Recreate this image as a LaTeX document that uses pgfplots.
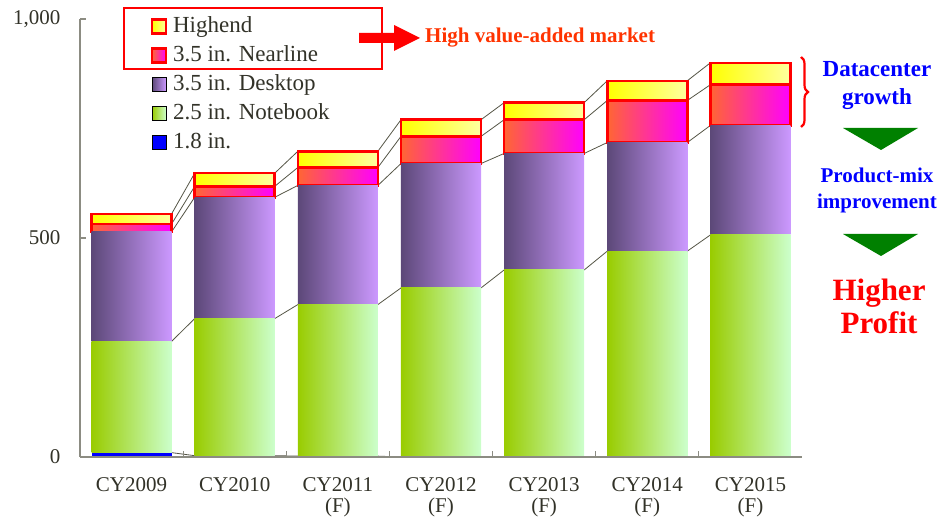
\documentclass[border=0pt]{standalone}
\usepackage{fontspec}
\setmainfont{Liberation Serif}
\usepackage{pgfplots}
\pgfplotsset{compat=1.18}
\usetikzlibrary{decorations.pathreplacing}

\definecolor{axgray}{RGB}{140,140,130}
\definecolor{conn}{RGB}{85,85,70}
\definecolor{hiL}{RGB}{255,255,0}
\definecolor{hiR}{RGB}{255,255,160}
\definecolor{nlL}{RGB}{255,102,51}
\definecolor{nlR}{RGB}{255,0,255}
\definecolor{dtL}{RGB}{92,72,120}
\definecolor{dtR}{RGB}{204,153,255}
\definecolor{nbL}{RGB}{153,204,0}
\definecolor{nbR}{RGB}{204,255,204}
\definecolor{txtgray}{RGB}{50,50,40}
\definecolor{hvred}{RGB}{255,51,0}
\definecolor{dcblue}{RGB}{0,0,255}
\definecolor{tri}{RGB}{0,128,0}

\pgfplotsset{
  common/.style={
    at={(80bp,61bp)}, anchor=south west, scale only axis,
    width=722bp, height=438bp,
    xmin=-0.5, xmax=6.5, ymin=0, ymax=1000,
  },
  conline/.style={conn, line width=0.8bp, no marks},
  segS/.style={fill=blue, draw=none},
  segNB/.style={left color=nbL, right color=nbR, draw=none},
  segDT/.style={left color=dtL, right color=dtR, draw=none},
  segNL/.style={left color=nlL, right color=nlR, draw=red, line width=2.5bp},
  segHI/.style={left color=hiL, right color=hiR, draw=red, line width=2.5bp},
}

% one stacked bar: #1 category position, #2 1.8 in., #3 2.5 in. Notebook,
% #4 3.5 in. Desktop, #5 3.5 in. Nearline, #6 Highend
\newcommand{\onebar}[6]{%
\begin{axis}[common, hide axis, ybar stacked, bar width=0.776]
\addplot[segS]  coordinates {(#1,#2)};
\addplot[segNB] coordinates {(#1,#3)};
\addplot[segDT] coordinates {(#1,#4)};
\addplot[segNL] coordinates {(#1,#5)};
\addplot[segHI] coordinates {(#1,#6)};
\end{axis}}

\begin{document}
\begin{tikzpicture}
\useasboundingbox (0,0) rectangle (940bp,518bp);

% connector lines between bars (segment tops)
\begin{axis}[common, hide axis, unbounded coords=jump]
\addplot[conline] coordinates {(0.388,10)(0.612,3)(1,nan)(1.388,3)(1.612,2)(2,nan)(2.388,2)(2.612,0)};
\addplot[conline] coordinates {(0.388,264)(0.612,316)(1,nan)(1.388,316)(1.612,348)(2,nan)(2.388,348)(2.612,386)(3,nan)(3.388,386)(3.612,427)(4,nan)(4.388,427)(4.612,470)(5,nan)(5.388,470)(5.612,507)};
\addplot[conline] coordinates {(0.388,514)(0.612,593)(1,nan)(1.388,593)(1.612,620)(2,nan)(2.388,620)(2.612,670)(3,nan)(3.388,670)(3.612,693)(4,nan)(4.388,693)(4.612,718)(5,nan)(5.388,718)(5.612,757)};
\addplot[conline] coordinates {(0.388,532)(0.612,618)(1,nan)(1.388,618)(1.612,661)(2,nan)(2.388,661)(2.612,732)(3,nan)(3.388,732)(3.612,770)(4,nan)(4.388,770)(4.612,814)(5,nan)(5.388,814)(5.612,850)};
\addplot[conline] coordinates {(0.388,555)(0.612,648)(1,nan)(1.388,648)(1.612,698)(2,nan)(2.388,698)(2.612,770)(3,nan)(3.388,770)(3.612,809)(4,nan)(4.388,809)(4.612,859)(5,nan)(5.388,859)(5.612,900)};
\end{axis}

% stacked bars, one axis per category so each bar gets its own gradient
\onebar{0}{10}{254}{250}{18}{23}
\onebar{1}{3}{313}{277}{25}{30}
\onebar{2}{2}{346}{272}{41}{37}
\onebar{3}{0}{386}{284}{62}{38}
\onebar{4}{0}{427}{266}{77}{39}
\onebar{5}{0}{470}{248}{96}{45}
\onebar{6}{0}{507}{250}{93}{50}

% main axis: axis lines, ticks, legend
\begin{axis}[common,
  axis x line*=bottom, axis y line*=left,
  axis line style={axgray, line width=1.5bp},
  tick align=inside, major tick length=6bp,
  tick style={axgray, line width=1.2bp},
  ytick={0,500,1000}, yticklabels={0,500,{1,000}},
  y tick label style={font=\fontsize{21bp}{21bp}\selectfont, text=txtgray, xshift=-16bp},
  xtick={0.5,1.5,2.5,3.5,4.5,5.5}, xticklabels={},
  extra x ticks={0,1,2,3,4,5,6},
  extra x tick labels={CY2009,CY2010,{CY2011\\(F)},{CY2012\\(F)},{CY2013\\(F)},{CY2014\\(F)},{CY2015\\(F)}},
  extra x tick style={major tick length=0pt},
  x tick label style={font=\fontsize{21bp}{21bp}\selectfont, text=txtgray, align=center, yshift=-17bp},
  legend image code/.code={\draw[#1] (4bp,-7bp) rectangle (18bp,7bp);
    \pgfpathrectangle{\pgfpoint{0bp}{-1bp}}{\pgfpoint{24bp}{2bp}}\pgfusepath{use as bounding box}},
  legend cell align=left,
  legend style={draw=none, fill=none, inner sep=0pt,
    at={(0.094,1.011)}, anchor=north west,
    font=\fontsize{23bp}{27bp}\selectfont, text=txtgray,
    row sep=5bp,
    nodes={inner sep=1bp, text height=17bp, text depth=5bp}},
]
\addlegendimage{segHI}
\addlegendentry{Highend}
\addlegendimage{segNL}
\addlegendentry{3.5 in. Nearline}
\addlegendimage{segDT}
\addlegendentry{3.5 in. Desktop}
\addlegendimage{segNB}
\addlegendentry{2.5 in. Notebook}
\addlegendimage{segS}
\addlegendentry{1.8 in.}
\end{axis}

% annotations
\draw[red, line width=2.5bp] (124bp,510bp) rectangle (382bp,449bp);
\fill[red] (359bp,475bp) -- (394bp,475bp) -- (394bp,467bp) -- (420bp,480bp) -- (394bp,493bp) -- (394bp,485bp) -- (359bp,485bp) -- cycle;
\node[font=\bfseries\fontsize{21bp}{21bp}\selectfont, text=hvred, anchor=west, inner sep=0pt] at (425bp,480bp) {High value-added market};

\draw[red, line width=2.2bp, decorate, decoration={brace, amplitude=7bp}] (801bp,461bp) -- (801bp,391bp);

\node[font=\bfseries\fontsize{23bp}{28bp}\selectfont, text=dcblue, align=center] at (877bp,432bp) {Datacenter\\growth};
\fill[tri] (843bp,390bp) -- (918bp,390bp) -- (881bp,368bp) -- cycle;
\node[font=\bfseries\fontsize{21bp}{26bp}\selectfont, text=dcblue, align=center] at (877bp,328bp) {Product-mix\\improvement};
\fill[tri] (843bp,284bp) -- (918bp,284bp) -- (881bp,262bp) -- cycle;
\node[font=\bfseries\fontsize{31bp}{33bp}\selectfont, text=red, align=center] at (879bp,212bp) {Higher\\Profit};
\end{tikzpicture}
\end{document}
